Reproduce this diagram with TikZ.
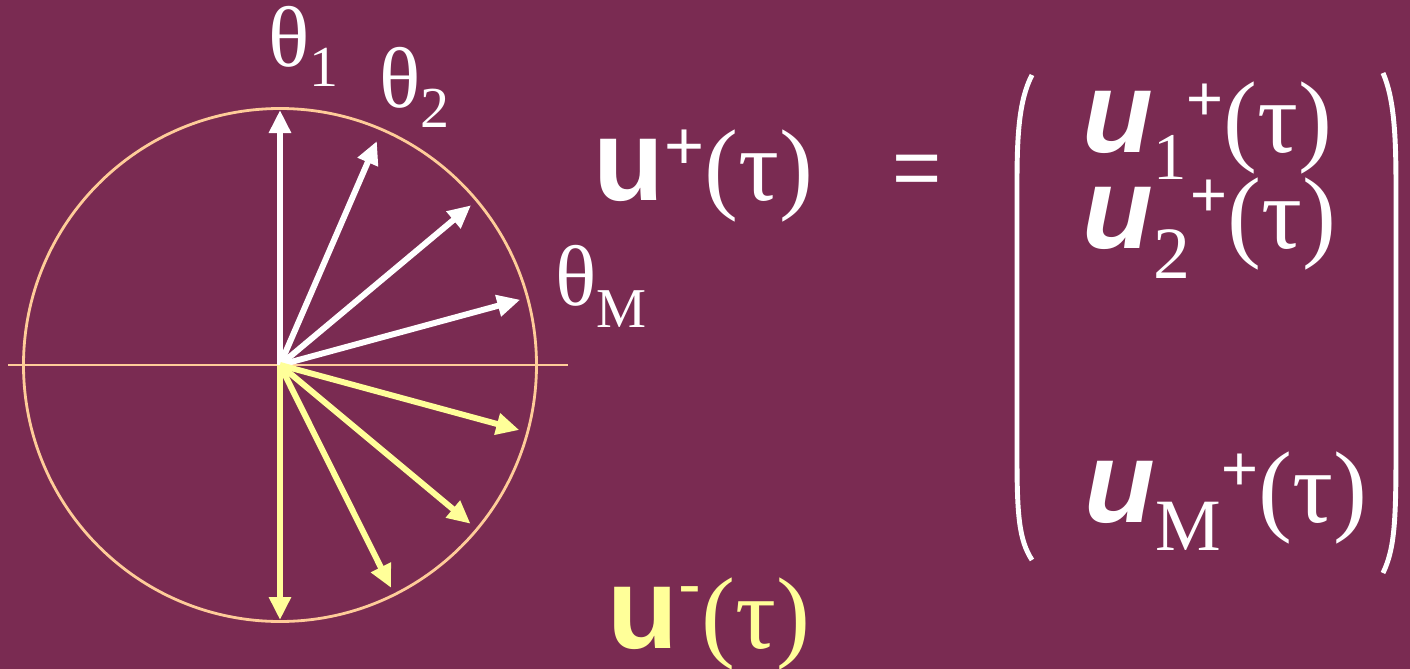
\documentclass[tikz,border=0pt]{standalone}
\usepackage{fontspec}
\setmainfont{Liberation Serif}
\setsansfont{Liberation Sans}
\usetikzlibrary{arrows.meta}
\definecolor{bgplum}{HTML}{7A2B52}
\definecolor{rimpeach}{HTML}{FFCC99}
\definecolor{lowyellow}{HTML}{FFFF99}
% raised / lowered small text: #1 shift, #2 size, #3 text
\newcommand\shifted[3]{\raisebox{#1}{\fontsize{#2}{#2}\selectfont #3}}
\newcommand\bigu{{\fontsize{33}{36}\selectfont\sffamily\bfseries u}}
\newcommand\slu{{\fontsize{33}{36}\selectfont\sffamily\bfseries\itshape u}}
\newcommand\tautx{{\fontsize{29}{32}\selectfont (τ)}}

\begin{document}
\begin{tikzpicture}[
  vec/.style={line width=1.7pt, -{Triangle[length=0.23cm,width=0.21cm]}},
  rim/.style={rimpeach, line width=0.8pt},
  lbl/.style={anchor=base west, inner sep=0pt, text=white},
  paren/.style={white, line width=1.4pt}
]
\fill[bgplum] (-2.80,3.65) rectangle (11.30,-3.04);
\useasboundingbox (-2.80,3.65) rectangle (11.30,-3.04);

% circle of directions
\coordinate (o) at (0,0);
\coordinate (axl) at (-2.72,0);
\coordinate (axr) at (2.88,0);
\draw[rim] (o) circle (2.565);
\draw[rim] (axl) -- (axr);

\foreach \ang/\len [count=\k] in {90/2.55,66.6/2.44,39.9/2.49,15.2/2.49} {
  \coordinate (up\k) at (\ang:\len);
  \draw[vec, white] (o) -- (up\k);
}
\foreach \ang/\len [count=\k] in {-15.2/2.48,-39.8/2.48,-63.5/2.49,-90/2.55} {
  \coordinate (dn\k) at (\ang:\len);
  \draw[vec, lowyellow] (o) -- (dn\k);
}

% angle labels
\node[lbl] (th1) at (-0.12,2.99) {\fontsize{24.5}{28}\selectfont θ\shifted{-0.20cm}{16.5}{1}};
\node[lbl] (th2) at (0.99,2.58) {\fontsize{24.5}{28}\selectfont θ\shifted{-0.20cm}{16.5}{2}};
\node[lbl] (thM) at (2.75,0.60) {\fontsize{24.5}{28}\selectfont θ\shifted{-0.22cm}{16}{M}};

% vectors
\node[lbl] (uplus) at (3.13,1.65) {\bigu\shifted{0.31cm}{19.5}{\sffamily +}\tautx};
\node[inner sep=0pt, text=white] (eq) at (6.37,1.895) {\fontsize{24}{26}\selectfont\sffamily =};
\node[lbl, text=lowyellow] (uminus) at (3.27,-2.83) {\bigu\shifted{0.41cm}{19.5}{\sffamily -}\tautx};

% column entries
\node[lbl] (row1) at (8.02,2.13) {\slu\shifted{-0.27cm}{19}{1}\shifted{0.32cm}{18}{\sffamily +}\tautx};
\node[lbl] (row2) at (8.02,1.17) {\slu\shifted{-0.30cm}{21}{2}\shifted{0.32cm}{18}{\sffamily +}\tautx};
\node[lbl] (rowM) at (8.04,-1.57) {\slu\shifted{-0.28cm}{21}{M}\shifted{0.32cm}{18}{\sffamily +}\tautx};

% brackets
\draw[paren] (7.52,2.90) .. controls (7.39,2.65) and (7.37,2.3) .. (7.37,1.8)
  -- (7.37,-0.9) .. controls (7.37,-1.5) and (7.39,-1.75) .. (7.52,-1.95);
\draw[paren] (11.03,2.92) .. controls (11.14,2.67) and (11.16,2.3) .. (11.16,1.8)
  -- (11.16,-0.9) .. controls (11.16,-1.6) and (11.14,-1.85) .. (11.03,-2.08);
\end{tikzpicture}
\end{document}
